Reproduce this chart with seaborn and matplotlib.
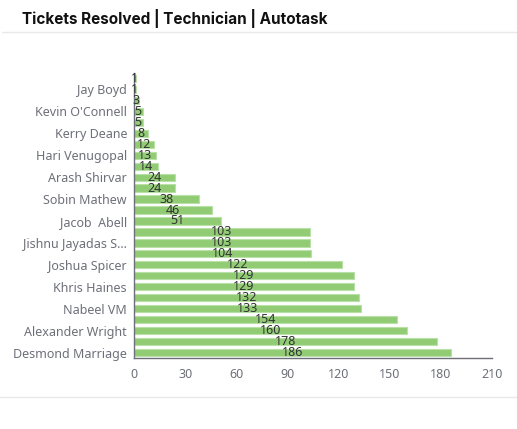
import matplotlib
matplotlib.use("Agg")
import matplotlib.pyplot as plt
import seaborn as sns
import pandas as pd
import numpy as np

# Data (top to bottom)
labels = ["", "Jay Boyd", "", "Kevin O'Connell", "", "Kerry Deane", "", "Hari Venugopal",
          "", "Arash Shirvar", "", "Sobin Mathew", "", "Jacob  Abell", "", "Jishnu Jayadas S...",
          "", "Joshua Spicer", "", "Khris Haines", "", "Nabeel VM", "", "Alexander Wright",
          "", "Desmond Marriage"]
values = [1, 1, 3, 5, 5, 8, 12, 13, 14, 24, 24, 38, 46, 51, 103, 103, 104, 122, 129, 129,
          132, 133, 154, 160, 178, 186]
x_ticks = [0, 30, 60, 90, 120, 150, 180, 210]
title = "Tickets Resolved | Technician | Autotask"

df = pd.DataFrame({"pos": list(range(len(values))), "value": values})

sns.set_style("white")
plt.rcParams['font.family'] = ['Noto Sans', 'DejaVu Sans']

fig = plt.figure(figsize=(5.17, 4.29), dpi=100)
ax = fig.add_axes([134/517, 1-358/429, (492-134)/517, (358-73)/429])

sns.barplot(data=df, x="value", y="pos", orient="h", color="#91cc75",
            saturation=1, width=0.66, edgecolor="#b9e0a6", linewidth=0.8, ax=ax)

ax.set_xlim(0, 210)
ax.set_ylim(len(values)-0.5, -0.5)
ax.set_xticks(x_ticks)
ax.set_xticklabels([str(t) for t in x_ticks])
ax.set_yticks(range(len(values)))
ax.set_yticklabels(labels)
ax.set_xlabel("")
ax.set_ylabel("")

gray = "#6e7079"
ax.tick_params(axis="x", colors=gray, labelsize=9, length=4, width=1, direction="out", pad=3)
ax.tick_params(axis="y", colors=gray, labelsize=9, length=0, pad=5)
for t in ax.get_xticklabels() + ax.get_yticklabels():
    t.set_color(gray)
ax.set_yticks(np.arange(-0.5, len(values), 2), minor=True)
ax.tick_params(axis="y", which="minor", length=4, width=1, color=gray)

for s in ["top", "right"]:
    ax.spines[s].set_visible(False)
for s in ["left", "bottom"]:
    ax.spines[s].set_color(gray)
    ax.spines[s].set_linewidth(1)

for i, v in enumerate(values):
    ax.text(v/2, i, str(v), ha="center", va="center", fontsize=9, color="#333333")

fig.text(22/517, 1-18/429, title, fontsize=11, fontweight="bold", color="#111111",
         ha="left", va="center", family=["Inter", "DejaVu Sans"])
fig.add_artist(plt.Line2D([2/517, 1], [1-32/429]*2, color="#e8e8e8", lw=1))
fig.add_artist(plt.Line2D([0, 1], [1-397/429]*2, color="#e8e8e8", lw=1))

fig.savefig("out.png", dpi=100)
